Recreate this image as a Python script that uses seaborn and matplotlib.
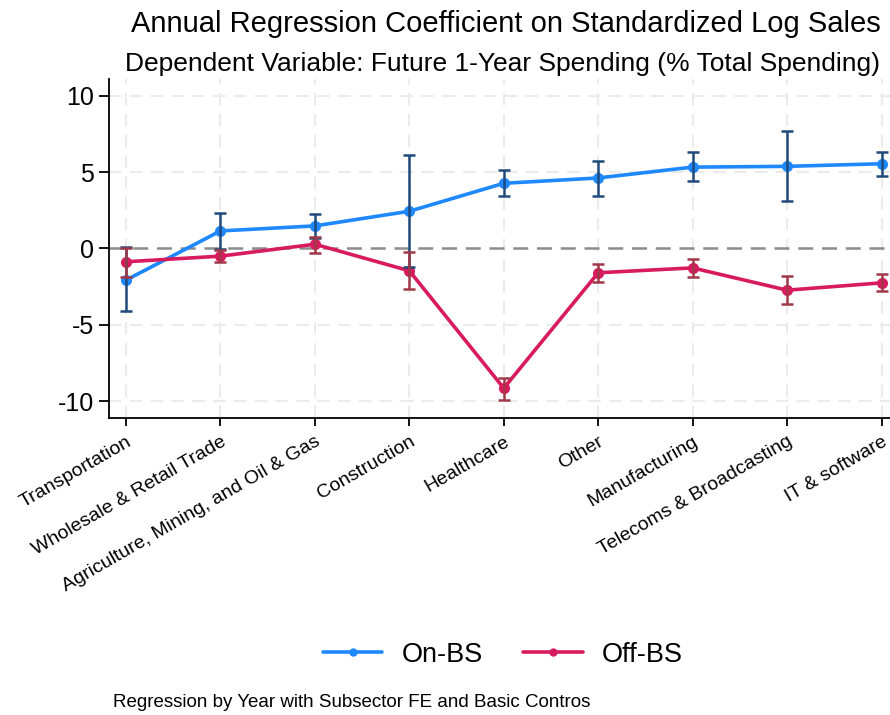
import numpy as np
import pandas as pd
import matplotlib
matplotlib.use("Agg")
import matplotlib.pyplot as plt
import seaborn as sns

categories = ["Transportation", "Wholesale & Retail Trade", "Agriculture, Mining, and Oil & Gas",
              "Construction", "Healthcare", "Other", "Manufacturing",
              "Telecoms & Broadcasting", "IT & software"]

on_coef = [-2.07, 1.15, 1.48, 2.44, 4.27, 4.62, 5.33, 5.38, 5.55]
on_lo = [-4.08, -0.02, 0.67, -1.24, 3.44, 3.44, 4.42, 3.09, 4.75]
on_hi = [0.07, 2.31, 2.29, 6.10, 5.16, 5.75, 6.29, 7.69, 6.34]

off_coef = [-0.87, -0.50, 0.28, -1.46, -9.15, -1.59, -1.27, -2.73, -2.25]
off_lo = [-1.85, -0.87, -0.29, -2.68, -9.92, -2.18, -1.85, -3.64, -2.81]
off_hi = [0.06, -0.11, 0.76, -0.24, -8.50, -1.03, -0.70, -1.81, -1.68]

series_names = ["On-BS", "Off-BS"]
y_ticks = [-10, -5, 0, 5, 10]

line_colors = {"On-BS": "#1E88FF", "Off-BS": "#D81B5C"}
err_colors = {"On-BS": "#1F4A7A", "Off-BS": "#A03848"}

sns.set_theme(style="white")
plt.rcParams['font.family'] = ['Liberation Sans', 'DejaVu Sans']
plt.rcParams['text.color'] = 'black'
plt.rcParams['xtick.color'] = 'black'
plt.rcParams['ytick.color'] = 'black'
plt.rcParams['xtick.labelcolor'] = 'black'
plt.rcParams['ytick.labelcolor'] = 'black'

pos = np.arange(len(categories))
df = pd.concat([
    pd.DataFrame({"pos": pos, "coef": on_coef, "lo": on_lo, "hi": on_hi, "series": "On-BS"}),
    pd.DataFrame({"pos": pos, "coef": off_coef, "lo": off_lo, "hi": off_hi, "series": "Off-BS"}),
], ignore_index=True)

fig = plt.figure(figsize=(8.9, 7.15), dpi=100)
ax = fig.add_axes([0.1225, 0.4154, 0.8775, 0.4741])

# grid
for t in y_ticks:
    if t != 0:
        ax.axhline(t, color="#EBEBEB", lw=1.5, ls=(0, (6, 4)), zorder=0)
for p in pos:
    ax.axvline(p, color="#EBEBEB", lw=1.5, ls=(0, (6, 4)), zorder=0)
ax.axhline(0, color="#8C8C8C", lw=1.8, ls=(0, (6, 3.5)), zorder=1)

sns.lineplot(data=df, x="pos", y="coef", hue="series", hue_order=series_names,
             palette=line_colors, marker="o", markersize=8, markeredgewidth=0,
             linewidth=2.6, ax=ax, zorder=3, legend=True)

for name in series_names:
    d = df[df["series"] == name]
    ax.errorbar(d["pos"], d["coef"],
                yerr=[d["coef"] - d["lo"], d["hi"] - d["coef"]],
                fmt="none", ecolor=err_colors[name], elinewidth=1.8,
                capsize=4, capthick=1.8, zorder=4)

ax.set_xlim(-0.18, 8.09)
ax.set_ylim(-11.1, 11.1)
ax.set_yticks(y_ticks)
ax.set_yticklabels([str(t) for t in y_ticks], fontsize=18)
ax.set_xticks(pos)
ax.set_xticklabels(categories, rotation=30, ha="right", rotation_mode="anchor", fontsize=14)
ax.set_xlabel("")
ax.set_ylabel("")
ax.tick_params(axis="both", which="both", direction="out", length=7, width=1.3, color="black",
               left=True, bottom=True, pad=4)
ax.tick_params(axis="x", length=6, pad=5)
for s in ["top", "right"]:
    ax.spines[s].set_visible(False)
for s in ["left", "bottom"]:
    ax.spines[s].set_color("black")
    ax.spines[s].set_linewidth(1.3)

handles, labels = ax.get_legend_handles_labels()
ax.legend_.remove()
for h in handles:
    h.set_markersize(6)
fig.legend(handles, labels, loc="center", bbox_to_anchor=(0.565, 0.084), ncol=2,
           frameon=False, fontsize=19.5, handlelength=2.2, columnspacing=1.5, handletextpad=0.7)

fig.text(0.568, 0.966, "Annual Regression Coefficient on Standardized Log Sales",
         ha="center", va="center", fontsize=21)
fig.text(0.565, 0.911, "Dependent Variable: Future 1-Year Spending (% Total Spending)",
         ha="center", va="center", fontsize=19)
fig.text(0.127, 0.017, "Regression by Year with Subsector FE and Basic Contros",
         ha="left", va="center", fontsize=13.5)

fig.savefig("out.png", dpi=100)
